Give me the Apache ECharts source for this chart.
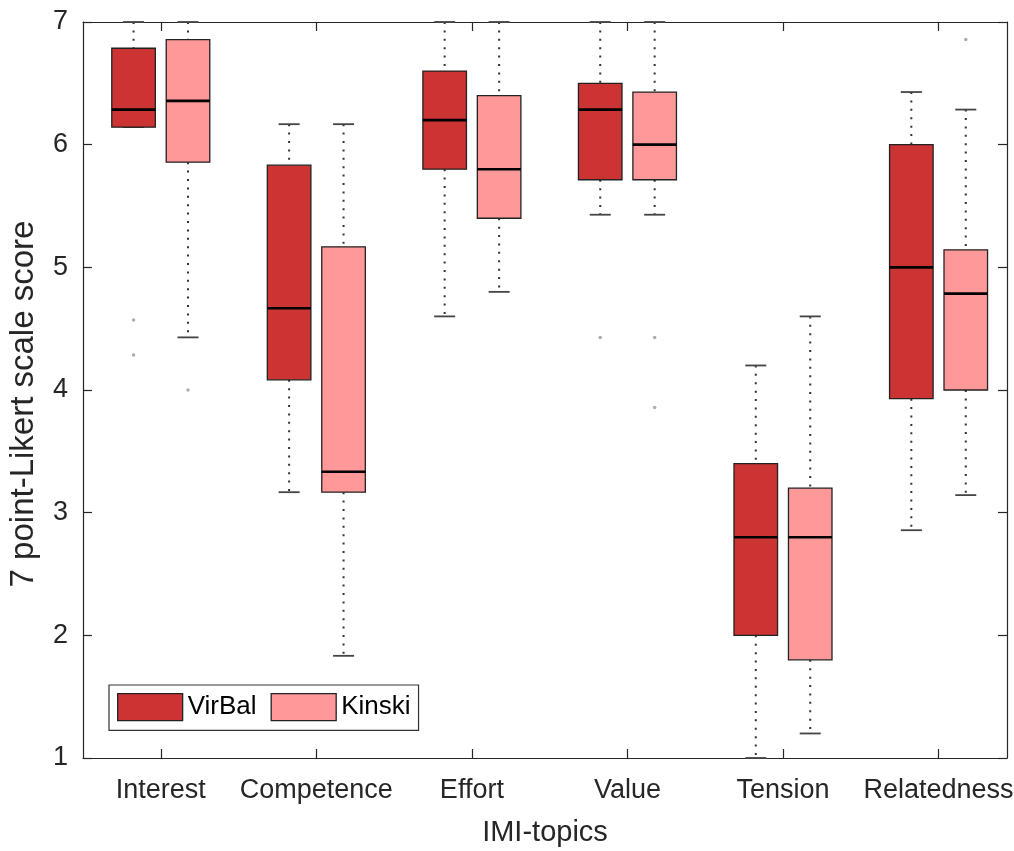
<!DOCTYPE html>
<html>
<head>
<meta charset="utf-8">
<script src="https://cdn.jsdelivr.net/npm/echarts@6/dist/echarts.min.js"></script>
<style>
    html, body { margin: 0; padding: 0; background: #fff; }
    #chart { width: 1014px; height: 851px; }
</style>
</head>
<body>
<div id="chart"></div>
<script>
// 分类
const categories = ['Interest', 'Competence', 'Effort', 'Value', 'Tension', 'Relatedness'];
const categoryPos = [1, 2, 3, 4, 5, 6];

// 每组: [下须, Q1, 中位数, Q3, 上须]
const virbalStats = [
    [6.143, 6.143, 6.286, 6.786, 7],
    [3.167, 4.083, 4.667, 5.833, 6.167],
    [4.6, 5.8, 6.2, 6.6, 7],
    [5.429, 5.714, 6.286, 6.5, 7],
    [1.0, 2.0, 2.8, 3.4, 4.2],
    [2.857, 3.929, 5.0, 6.0, 6.429]
];
const kinskiStats = [
    [4.429, 5.857, 6.357, 6.857, 7],
    [1.833, 3.167, 3.333, 5.167, 6.167],
    [4.8, 5.4, 5.8, 6.4, 7],
    [5.429, 5.714, 6.0, 6.429, 7],
    [1.2, 1.8, 2.8, 3.2, 4.6],
    [3.143, 4.0, 4.786, 5.143, 6.286]
];

// 离群点: [分类序号, 数值]
const virbalOutliers = [[0, 4.571], [0, 4.286], [3, 4.429]];
const kinskiOutliers = [[0, 4.0], [3, 4.429], [3, 3.857], [5, 6.857]];

const yTicks = [1, 2, 3, 4, 5, 6, 7];

const OFFSET = 0.175;
const BOX_WIDTH = 0.28;
const CAP_WIDTH = 0.135;
const TEXT = '#262626';
const FONT = 'Liberation Sans, Arial, sans-serif';

function boxData(stats, shift) {
    return stats.map((s, i) => [categoryPos[i] + shift].concat(s));
}

function outlierData(list, shift) {
    return list.map(o => [categoryPos[o[0]] + shift, o[1]]);
}

// 画箱线
function renderBox(params, api) {
    const x = api.value(0);
    const lo = api.coord([x, api.value(1)]);
    const q1 = api.coord([x, api.value(2)]);
    const med = api.coord([x, api.value(3)]);
    const q3 = api.coord([x, api.value(4)]);
    const hi = api.coord([x, api.value(5)]);
    const bw = api.size([BOX_WIDTH, 0])[0];
    const cw = api.size([CAP_WIDTH, 0])[0];
    const cx = lo[0];
    const dotted = { stroke: '#333', lineWidth: 2, lineDash: [2, 6.4], fill: null };
    const cap = { stroke: '#444', lineWidth: 1.8 };
    return {
        type: 'group',
        children: [
            { type: 'line', shape: { x1: cx, y1: hi[1], x2: cx, y2: q3[1] }, style: dotted },
            { type: 'line', shape: { x1: cx, y1: q1[1], x2: cx, y2: lo[1] }, style: dotted },
            { type: 'line', shape: { x1: cx - cw / 2, y1: hi[1], x2: cx + cw / 2, y2: hi[1] }, style: cap },
            { type: 'line', shape: { x1: cx - cw / 2, y1: lo[1], x2: cx + cw / 2, y2: lo[1] }, style: cap },
            {
                type: 'rect',
                shape: { x: cx - bw / 2, y: q3[1], width: bw, height: q1[1] - q3[1] },
                style: { fill: api.visual('color'), stroke: '#222', lineWidth: 1.3 }
            },
            {
                type: 'line',
                shape: { x1: cx - bw / 2, y1: med[1], x2: cx + bw / 2, y2: med[1] },
                style: { stroke: '#000', lineWidth: 2.6 }
            }
        ]
    };
}

const chart = echarts.init(document.getElementById('chart'));

const tickStyle = { show: true, inside: true, length: 9, lineStyle: { color: TEXT, width: 1.2 } };

const option = {
    backgroundColor: '#fff',
    animation: false,
    grid: { left: 83, right: 7, top: 22, bottom: 93, outerBoundsMode: 'none', containLabel: false },
    legend: {
        data: [
            { name: 'VirBal', itemStyle: { color: '#cc3333', borderColor: '#222', borderWidth: 1.3 } },
            { name: 'Kinski', itemStyle: { color: '#ff9999', borderColor: '#222', borderWidth: 1.3 } }
        ],
        left: 109,
        top: 685,
        orient: 'horizontal',
        icon: 'rect',
        itemWidth: 65,
        itemHeight: 27,
        itemGap: 14,
        padding: [8, 8, 9, 8],
        borderColor: '#333',
        borderWidth: 1.2,
        backgroundColor: '#fff',
        textStyle: { fontSize: 26, color: '#000', fontFamily: FONT }
    },
    xAxis: [
        {
            type: 'value',
            min: 0.5,
            max: 6.44,
            name: 'IMI-topics',
            nameLocation: 'middle',
            nameGap: 60,
            nameTextStyle: { fontSize: 29, color: TEXT, fontFamily: FONT },
            axisLine: { show: true, onZero: false, lineStyle: { color: TEXT, width: 1.2 } },
            axisTick: Object.assign({ customValues: categoryPos }, tickStyle),
            axisLabel: {
                customValues: categoryPos,
                formatter: v => categories[Math.round(v) - 1],
                fontSize: 27,
                color: TEXT,
                fontFamily: FONT,
                margin: 19
            },
            splitLine: { show: false }
        },
        {
            type: 'value',
            position: 'top',
            min: 0.5,
            max: 6.44,
            axisLine: { show: true, onZero: false, lineStyle: { color: TEXT, width: 1.2 } },
            axisTick: Object.assign({ customValues: categoryPos }, tickStyle),
            axisLabel: { show: false },
            splitLine: { show: false }
        }
    ],
    yAxis: [
        {
            type: 'value',
            min: 1,
            max: 7,
            interval: 1,
            name: '7 point-Likert scale score',
            nameLocation: 'middle',
            nameGap: 43,
            nameTextStyle: { fontSize: 33, color: TEXT, fontFamily: FONT, padding: [0, 28, 0, 0] },
            axisLine: { show: true, onZero: false, lineStyle: { color: TEXT, width: 1.2 } },
            axisTick: tickStyle,
            axisLabel: {
                formatter: v => (yTicks.indexOf(v) >= 0 ? String(v) : ''),
                fontSize: 27,
                color: TEXT,
                fontFamily: FONT,
                margin: 15
            },
            splitLine: { show: false }
        },
        {
            type: 'value',
            position: 'right',
            min: 1,
            max: 7,
            interval: 1,
            axisLine: { show: true, onZero: false, lineStyle: { color: TEXT, width: 1.2 } },
            axisTick: tickStyle,
            axisLabel: { show: false },
            splitLine: { show: false }
        }
    ],
    series: [
        {
            name: 'VirBal',
            type: 'custom',
            xAxisIndex: 0,
            yAxisIndex: 0,
            renderItem: renderBox,
            itemStyle: { color: '#cc3333' },
            encode: { x: 0, y: [1, 2, 3, 4, 5] },
            data: boxData(virbalStats, -OFFSET),
            z: 2
        },
        {
            name: 'Kinski',
            type: 'custom',
            xAxisIndex: 0,
            yAxisIndex: 0,
            renderItem: renderBox,
            itemStyle: { color: '#ff9999' },
            encode: { x: 0, y: [1, 2, 3, 4, 5] },
            data: boxData(kinskiStats, OFFSET),
            z: 2
        },
        {
            name: 'VirBal outliers',
            type: 'scatter',
            symbolSize: 3.5,
            itemStyle: { color: '#999' },
            data: outlierData(virbalOutliers, -OFFSET),
            z: 3
        },
        {
            name: 'Kinski outliers',
            type: 'scatter',
            symbolSize: 3.5,
            itemStyle: { color: '#999' },
            data: outlierData(kinskiOutliers, OFFSET),
            z: 3
        }
    ]
};

chart.setOption(option);

window.addEventListener('resize', function() {
    chart.resize();
});
</script>
</body>
</html>
